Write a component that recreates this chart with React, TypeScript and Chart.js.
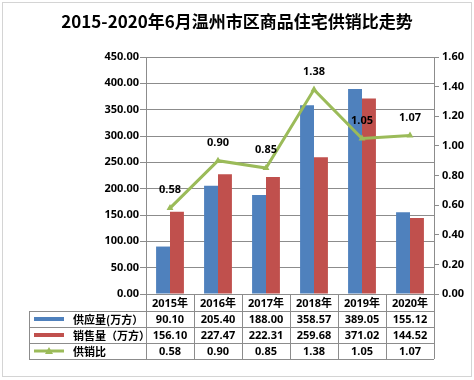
import React, { useEffect, useRef } from "react";
import { Chart, registerables } from "chart.js";

Chart.register(...registerables);

const TITLE = "2015-2020年6月温州市区商品住宅供销比走势";
const categories = ["2015年", "2016年", "2017年", "2018年", "2019年", "2020年"];
const supply = [90.1, 205.4, 188.0, 358.57, 389.05, 155.12];
const sales = [156.1, 227.47, 222.31, 259.68, 371.02, 144.52];
const ratio = [0.58, 0.9, 0.85, 1.38, 1.05, 1.07];
const seriesNames = ["供应量(万方）", "销售量（万方）", "供销比"];

const BLUE = "#4F81BD";
const RED = "#C0504D";
const GREEN = "#9BBB59";
const GRID = "#8c8c8c";
const FONT = "'Noto Sans', 'Noto Sans CJK SC', sans-serif";

const tablePlugin = {
  id: "tablePlugin",
  afterDraw(chart: any) {
    const ctx = chart.ctx;
    const area = chart.chartArea;
    const xs = chart.scales.x;
    const n = categories.length;
    const colW = (area.right - area.left) / n;
    const rows = [area.bottom, area.bottom + 17, area.bottom + 33, area.bottom + 49, area.bottom + 65];
    const tableLeft = 29;
    ctx.save();
    // title
    ctx.fillStyle = "#000";
    ctx.font = `bold 17px 'Noto Sans CJK SC', sans-serif`;
    ctx.textAlign = "center";
    ctx.textBaseline = "middle";
    ctx.fillText(TITLE, 237, 22);

    // outer frame
    ctx.strokeStyle = "#d4d4d4";
    ctx.lineWidth = 1;
    ctx.strokeRect(2.5, 2.5, 469, 374);

    ctx.strokeStyle = GRID;
    ctx.lineWidth = 1;
    ctx.beginPath();
    for (let i = 1; i < rows.length; i++) {
      const y = Math.round(rows[i]) + 0.5;
      ctx.moveTo(tableLeft, y);
      ctx.lineTo(area.right, y);
    }
    for (let i = 0; i <= n; i++) {
      const x = Math.round(area.left + i * colW) + 0.5;
      ctx.moveTo(x, rows[0]);
      ctx.lineTo(x, rows[4]);
    }
    ctx.moveTo(tableLeft + 0.5, rows[1]);
    ctx.lineTo(tableLeft + 0.5, rows[4]);
    ctx.stroke();

    ctx.fillStyle = "#000";
    ctx.font = `bold 11px ${FONT}`;
    ctx.textAlign = "center";
    ctx.textBaseline = "middle";
    const rowData = [supply, sales, ratio];
    for (let i = 0; i < n; i++) {
      const cx = xs.getPixelForValue(i);
      ctx.fillText(categories[i], cx, (rows[0] + rows[1]) / 2 + 1);
      for (let r = 0; r < 3; r++) {
        ctx.fillText(rowData[r][i].toFixed(2), cx, (rows[r + 1] + rows[r + 2]) / 2 + 1);
      }
    }
    // legend keys
    ctx.textAlign = "left";
    ctx.font = `bold 11px 'Noto Sans CJK SC', sans-serif`;
    const colors = [BLUE, RED];
    for (let r = 0; r < 3; r++) {
      const cy = (rows[r + 1] + rows[r + 2]) / 2;
      if (r < 2) {
        ctx.fillStyle = colors[r];
        ctx.fillRect(34, cy - 2, 30, 4);
      } else {
        ctx.strokeStyle = GREEN;
        ctx.lineWidth = 3;
        ctx.beginPath();
        ctx.moveTo(34, cy);
        ctx.lineTo(64, cy);
        ctx.stroke();
        ctx.fillStyle = GREEN;
        ctx.beginPath();
        ctx.moveTo(49, cy - 4);
        ctx.lineTo(53, cy + 3);
        ctx.lineTo(45, cy + 3);
        ctx.closePath();
        ctx.fill();
      }
      ctx.fillStyle = "#000";
      ctx.fillText(seriesNames[r], 73, cy + 1);
    }
    ctx.restore();
  },
  afterDatasetsDraw(chart: any) {
    const ctx = chart.ctx;
    const meta = chart.getDatasetMeta(2);
    ctx.save();
    ctx.fillStyle = "#000";
    ctx.font = `bold 11px ${FONT}`;
    ctx.textAlign = "center";
    ctx.textBaseline = "middle";
    meta.data.forEach((pt: any, i: number) => {
      ctx.fillText(ratio[i].toFixed(2), pt.x, pt.y - 18);
    });
    ctx.restore();
  },
};

export default function App() {
  const ref = useRef<HTMLCanvasElement | null>(null);
  useEffect(() => {
    if (!ref.current) return;
    const chart = new Chart(ref.current, {
      type: "bar",
      data: {
        labels: categories,
        datasets: [
          {
            type: "bar",
            label: seriesNames[0],
            data: supply,
            backgroundColor: BLUE,
            yAxisID: "y",
            order: 2,
            barPercentage: 1,
            categoryPercentage: 0.58,
          },
          {
            type: "bar",
            label: seriesNames[1],
            data: sales,
            backgroundColor: RED,
            yAxisID: "y",
            order: 2,
            barPercentage: 1,
            categoryPercentage: 0.58,
          },
          {
            type: "line",
            label: seriesNames[2],
            data: ratio,
            borderColor: GREEN,
            backgroundColor: GREEN,
            borderWidth: 3,
            pointStyle: "triangle",
            pointRadius: 4,
            pointBorderWidth: 0,
            tension: 0,
            yAxisID: "y1",
            order: 0,
          } as any,
        ],
      },
      options: {
        animation: false,
        responsive: false,
        layout: { padding: { top: 57, left: 0, right: 0, bottom: 0 } },
        plugins: {
          legend: { display: false },
          title: { display: false },
          tooltip: { enabled: false },
        },
        scales: {
          x: {
            grid: { display: false },
            border: { display: true, color: GRID },
            ticks: { display: false },
            afterFit: (s: any) => {
              s.height = 86;
            },
          },
          y: {
            position: "left",
            min: 0,
            max: 450,
            ticks: {
              stepSize: 50,
              color: "#000",
              font: { family: FONT, size: 11, weight: "bold" },
              padding: 1,
              callback: (v: any) => Number(v).toFixed(2),
            },
            grid: { color: GRID, tickLength: 6 },
            border: { display: true, color: GRID },
            afterFit: (s: any) => {
              s.width = 146;
            },
          },
          y1: {
            position: "right",
            min: 0,
            max: 1.6,
            ticks: {
              stepSize: 0.2,
              color: "#000",
              font: { family: FONT, size: 11, weight: "bold" },
              padding: 3,
              callback: (v: any) => Number(v).toFixed(2),
            },
            grid: { drawOnChartArea: false, color: GRID, tickLength: 5 },
            border: { display: true, color: GRID },
            afterFit: (s: any) => {
              s.width = 40;
            },
          },
        },
      },
      plugins: [tablePlugin],
    });
    return () => chart.destroy();
  }, []);
  return (
    <div style={{ position: "absolute", left: 0, top: 0, width: 474, height: 380, background: "#fff" }}>
      <canvas ref={ref} width={474} height={380} style={{ width: 474, height: 380 }} />
    </div>
  );
}
